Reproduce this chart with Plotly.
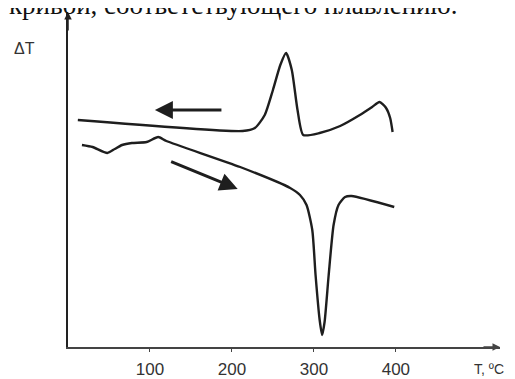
import plotly.graph_objects as go

# Cooling curve (upper, exothermic crystallisation peak)
cool_T = [12, 213, 228, 240, 250, 259, 266, 273, 280, 287, 307, 332, 356, 371, 380, 388, 393, 396]
cool_dT = [227, 216, 219, 232, 257, 282, 294, 277, 237, 212, 214, 221, 232, 240, 245, 239, 229, 215]

# Heating curve (lower, endothermic melting peak)
heat_T = [17, 30, 48, 57, 66, 78, 96, 110, 120, 210, 271, 283, 291, 298, 302, 307, 310, 313, 318, 324, 330, 338, 346, 398]
heat_dT = [202, 200, 194, 198, 202, 204, 205, 210, 206, 180, 159, 152, 142, 117, 72, 27, 12, 25, 72, 122, 142, 150, 151, 140]

tick_vals = [100, 200, 300, 400]
tick_text = ["100", "200", "300", "400"]

ink = "#1e1e1e"

fig = go.Figure()
fig.add_trace(go.Scatter(x=cool_T, y=cool_dT, mode="lines",
                         line=dict(color=ink, width=2.4, shape="spline", smoothing=0.6),
                         hoverinfo="skip"))
fig.add_trace(go.Scatter(x=heat_T, y=heat_dT, mode="lines",
                         line=dict(color=ink, width=2.4, shape="spline", smoothing=0.6),
                         hoverinfo="skip"))

ann = []
# direction arrows
ann.append(dict(x=106, y=237, ax=189, ay=237, xref="x", yref="y", axref="x", ayref="y",
                showarrow=True, arrowhead=2, arrowsize=1.2, arrowwidth=3, arrowcolor=ink, text=""))
ann.append(dict(x=207, y=158, ax=124, ay=186, xref="x", yref="y", axref="x", ayref="y",
                showarrow=True, arrowhead=2, arrowsize=1.2, arrowwidth=3, arrowcolor=ink, text=""))
# axis arrowheads
ann.append(dict(x=527, y=0, ax=505, ay=0, xref="x", yref="y", axref="x", ayref="y",
                showarrow=True, arrowhead=2, arrowsize=1, arrowwidth=1.5, arrowcolor="#444", text=""))
ann.append(dict(x=0, y=335, ax=0, ay=315, xref="x", yref="y", axref="x", ayref="y",
                showarrow=True, arrowhead=2, arrowsize=1, arrowwidth=1.5, arrowcolor="#222", text=""))
# labels
ann.append(dict(text="ΔT", showarrow=False, xref="paper", yref="paper",
                xanchor="center", yanchor="middle",
                font=dict(family="Liberation Sans", size=16, color="#333")))
ann.append(dict(text="T, ºC", showarrow=False, xref="paper", yref="paper",
                xanchor="center", yanchor="middle",
                font=dict(family="Liberation Sans", size=14, color="#333")))
ann.append(dict(text="кривой, соответствующего плавлению.", showarrow=False,
                xref="paper", yref="paper", xanchor="left", yanchor="bottom",
                font=dict(family="Liberation Serif", size=27, color="#111")))

# the page body adds an 8px offset, so the figure is 8px smaller than the window
W, H = 507, 371
L, R, T, B = 60, 15, 4, 32
pw, ph = W - L - R, H - T - B

def px2paper(px, py):
    return (px - L) / pw, (H - B - py) / ph

ann[4]["x"], ann[4]["y"] = px2paper(16, 40)
ann[5]["x"], ann[5]["y"] = px2paper(481, 361)
ann[6]["x"], ann[6]["y"] = px2paper(-1, 14)

fig.update_layout(
    width=W, height=H, margin=dict(l=L, r=R, t=T, b=B, autoexpand=False),
    paper_bgcolor="white", plot_bgcolor="white", showlegend=False,
    annotations=ann,
    xaxis=dict(range=[0, 527], showgrid=False, zeroline=False, showline=True,
               linecolor="#444", linewidth=1.5, tickvals=tick_vals, ticktext=tick_text,
               ticks="outside", ticklen=3, tickcolor="#444",
               tickfont=dict(family="Liberation Sans", size=17, color="#333"),
               ticklabelstandoff=3),
    yaxis=dict(range=[0, 335], showgrid=False, zeroline=False, showline=True,
               linecolor="#222", linewidth=2, showticklabels=False, ticks=""),
)

fig.write_html("out.html")
